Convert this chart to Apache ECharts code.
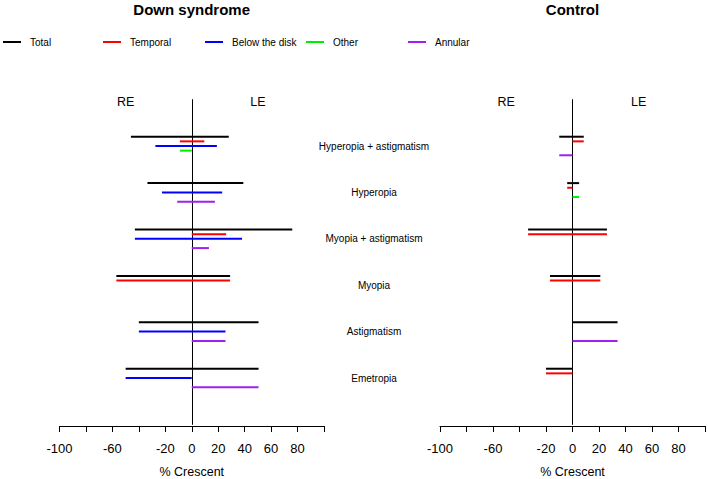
<!DOCTYPE html>
<html>
<head>
<meta charset="utf-8">
<script src="https://cdn.jsdelivr.net/npm/echarts@6/dist/echarts.min.js"></script>
<style>
html,body{margin:0;padding:0;background:#fff;}
#chart{width:708px;height:479px;}
</style>
</head>
<body>
<div id="chart"></div>
<script>
// ---------------- data ----------------
const categories = ['Hyperopia + astigmatism', 'Hyperopia', 'Myopia + astigmatism', 'Myopia', 'Astigmatism', 'Emetropia'];
const seriesNames = ['Total', 'Temporal', 'Below the disk', 'Other', 'Annular'];
const panelTitles = ['Down syndrome', 'Control'];
const xTicks = [-100, -80, -60, -40, -20, 0, 20, 40, 60, 80, 100];
const xTickLabels = ['-100', '', '-60', '', '-20', '0', '20', '40', '60', '80', ''];
const sideLabels = ['RE', 'LE'];

// Down syndrome: RE extent (left of 0) and LE extent (right of 0), % crescent
const dsTotalRE    = [46, 33.5, 43, 57, 40, 50];
const dsTotalLE    = [28, 39, 76, 29, 50.5, 50.5];
const dsTemporalRE = [9, null, 0, 57, null, null];
const dsTemporalLE = [9.5, null, 26, 29, null, null];
const dsBelowRE    = [27.5, 22.5, 43, null, 40, 50];
const dsBelowLE    = [19, 23, 38, null, 25.5, 0];
const dsOtherRE    = [9, null, null, null, null, null];
const dsOtherLE    = [0, null, null, null, null, null];
const dsAnnularRE  = [null, 11, 0, null, 0, 0];
const dsAnnularLE  = [null, 17.5, 13, null, 25.5, 50.5];

// Control
const ctTotalRE    = [10, 4, 33.5, 17, 0, 20];
const ctTotalLE    = [8.5, 5, 26, 21, 34, 0];
const ctTemporalRE = [0, 4, 33.5, 17, null, 20];
const ctTemporalLE = [8.5, 0, 26, 21, null, 0];
const ctBelowRE    = [null, null, null, null, null, null];
const ctBelowLE    = [null, null, null, null, null, null];
const ctOtherRE    = [null, 0, null, null, null, null];
const ctOtherLE    = [null, 5, null, null, null, null];
const ctAnnularRE  = [10, null, null, null, 0, null];
const ctAnnularLE  = [0, null, null, null, 34, null];

// ---------------- styling ----------------
const colors = ['#000000', '#ff0000', '#0000ff', '#00ee00', '#a020f0'];
const FONT = '"Liberation Sans", Arial, sans-serif';
const slotStep = 0.1;

const panels = [
  [[dsTotalRE, dsTotalLE], [dsTemporalRE, dsTemporalLE], [dsBelowRE, dsBelowLE], [dsOtherRE, dsOtherLE], [dsAnnularRE, dsAnnularLE]],
  [[ctTotalRE, ctTotalLE], [ctTemporalRE, ctTemporalLE], [ctBelowRE, ctBelowLE], [ctOtherRE, ctOtherLE], [ctAnnularRE, ctAnnularLE]]
];

function makeRender(slot) {
  return function (params, api) {
    const y = api.value(2) + (slot - 2) * slotStep;
    const p1 = api.coord([-api.value(0), y]);
    const p2 = api.coord([api.value(1), y]);
    return {
      type: 'line',
      shape: { x1: p1[0], y1: p1[1], x2: p2[0], y2: p2[1] },
      style: { stroke: api.visual('color'), lineWidth: 2, lineCap: 'butt' }
    };
  };
}

const grids = [
  { left: 59.5, width: 264.5, top: 99.6, height: 324.8, containLabel: false, outerBoundsMode: 'none' },
  { left: 440, width: 265, top: 99.6, height: 324.8, containLabel: false, outerBoundsMode: 'none' }
];

const xAxes = grids.map((g, gi) => ({
  gridIndex: gi, type: 'value', min: -100, max: 100, interval: 20,
  offset: 1.6,
  axisLine: { show: true, onZero: false, lineStyle: { color: '#000', width: 1 } },
  axisTick: { show: true, inside: false, length: 6, lineStyle: { color: '#000', width: 1 } },
  axisLabel: {
    show: true, margin: 16, fontSize: 13, color: '#000', fontFamily: FONT,
    formatter: v => { const k = xTicks.indexOf(v); return k >= 0 ? xTickLabels[k] : ''; }
  },
  splitLine: { show: false },
  name: '% Crescent', nameLocation: 'middle', nameGap: 39,
  nameTextStyle: { fontSize: 12.5, color: '#000', fontFamily: FONT }
}));

const yBase = { type: 'value', min: -1, max: 6, inverse: true, splitLine: { show: false } };
const yAxes = [
  Object.assign({}, yBase, { gridIndex: 0, axisLine: { show: true, onZero: true, lineStyle: { color: '#000', width: 1 } }, axisTick: { show: false }, axisLabel: { show: false } }),
  Object.assign({}, yBase, { gridIndex: 1, axisLine: { show: true, onZero: true, lineStyle: { color: '#000', width: 1 } }, axisTick: { show: false }, axisLabel: { show: false } }),
  Object.assign({}, yBase, {
    gridIndex: 0, position: 'right', interval: 1,
    axisLine: { show: false }, axisTick: { show: false },
    axisLabel: {
      show: true, margin: 50, align: 'center', fontSize: 10, color: '#000', fontFamily: FONT,
      formatter: v => (v >= 0 && v < categories.length) ? categories[v] : ''
    }
  })
];

const series = [];
panels.forEach((panel, pi) => {
  panel.forEach((pair, si) => {
    const RE = pair[0], LE = pair[1];
    const data = [];
    for (let i = 0; i < categories.length; i++) {
      if (RE[i] !== null && LE[i] !== null) data.push([RE[i], LE[i], i]);
    }
    series.push({
      type: 'custom', name: seriesNames[si],
      xAxisIndex: pi, yAxisIndex: pi,
      itemStyle: { color: colors[si] },
      encode: { x: 1, y: 2 },
      renderItem: makeRender(si),
      data: data, silent: true
    });
  });
  // RE / LE side labels
  series.push({
    type: 'custom', name: 'side' + pi, xAxisIndex: pi, yAxisIndex: pi, silent: true,
    data: [[-50, -0.94, 0], [50, -0.94, 1]],
    encode: { x: 0, y: 1 },
    renderItem: function (params, api) {
      const p = api.coord([api.value(0), api.value(1)]);
      return {
        type: 'text', x: p[0], y: p[1],
        style: { text: sideLabels[api.value(2)], textAlign: 'center', textVerticalAlign: 'middle', fontSize: 12.5, fontFamily: FONT, fill: '#000' }
      };
    }
  });
});

const legendX = [3, 103, 205, 306, 408];
const legends = seriesNames.map((n, i) => ({
  data: [{ name: n, itemStyle: { color: colors[i] } }],
  left: legendX[i], top: 37, padding: 0,
  itemWidth: 18, itemHeight: 2, icon: 'rect', selectedMode: false,
  textStyle: { fontSize: 10, color: '#000', fontFamily: FONT, padding: [0, 0, 0, 4] }
}));

const chart = echarts.init(document.getElementById('chart'), null, { renderer: 'svg' });
chart.setOption({
  animation: false,
  backgroundColor: '#fff',
  grid: grids,
  xAxis: xAxes,
  yAxis: yAxes,
  legend: legends,
  graphic: panelTitles.map((t, i) => ({
    type: 'text', x: i === 0 ? 191.7 : 572.5, y: 9,
    style: { text: t, textAlign: 'center', textVerticalAlign: 'middle', fontSize: 15, fontWeight: 'bold', fontFamily: FONT, fill: '#000' }
  })),
  series: series
});
</script>
</body>
</html>
